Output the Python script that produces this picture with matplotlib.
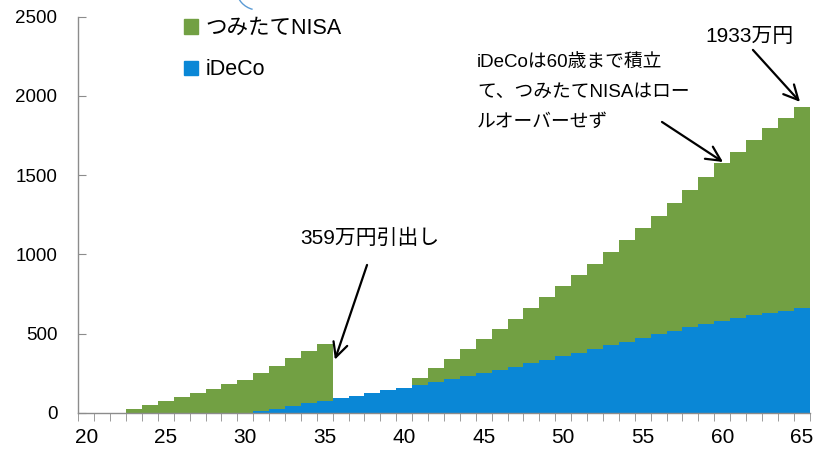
#!/usr/bin/env python3
"""Stacked bar chart of iDeCo and tsumitate NISA balances by age."""

import matplotlib
matplotlib.use("Agg")
import matplotlib.pyplot as plt
from matplotlib.patches import Patch, Arc

plt.rcParams["font.family"] = ["Liberation Sans", "Noto Sans CJK JP"]

# Balance in 万円 at each age
ages = list(range(20, 66))
ideco = [0, 0, 0, 0, 0, 0, 0, 0, 0, 0, 0,
         11, 26, 42, 58, 76, 91, 108, 125, 142, 159,
         177, 195, 213, 231, 250, 270, 290, 311, 333, 356,
         379, 402, 425, 448, 472, 495, 518, 540, 560, 581,
         600, 615, 630, 645, 659]
nisa = [0, 0, 0,
        23, 48, 74, 98, 124, 150, 178, 208, 240, 270, 302, 331, 359,
        0, 0, 0, 0, 0,
        40, 85, 124, 169, 214, 257, 302, 348, 400, 444,
        491, 537, 588, 643, 693, 750, 809, 867, 931, 994,
        1049, 1108, 1167, 1219, 1274]
xticks = [20, 25, 30, 35, 40, 45, 50, 55, 60, 65]

GREEN = "#72A043"
BLUE = "#0A87D6"
GRAY = "#8C8C8C"


def main():
    fig = plt.figure(figsize=(8.14, 4.53), dpi=100)
    ax = fig.add_axes([0.0962, 0.0890, 0.8985, 0.8739])

    ax.bar(ages, ideco, width=1.0, color=BLUE, linewidth=0)
    ax.bar(ages, nisa, width=1.0, bottom=ideco, color=GREEN, linewidth=0)

    ax.set_xlim(19.5, 65.5)
    ax.set_ylim(0, 2500)

    for side in ("top", "right"):
        ax.spines[side].set_visible(False)
    for side in ("left", "bottom"):
        ax.spines[side].set_color(GRAY)
        ax.spines[side].set_linewidth(1.0)

    ax.set_yticks(range(0, 2501, 500))
    ax.tick_params(axis="y", direction="in", length=6, color=GRAY,
                   labelsize=13.5, pad=15)
    ax.set_xticks(xticks)
    ax.set_xticks([a - 0.5 for a in ages] + [65.5], minor=True)
    ax.tick_params(axis="x", which="major", length=0, labelsize=15, pad=11)
    ax.tick_params(axis="x", which="minor", direction="out", length=6,
                   color=GRAY)

    handles = [Patch(color=GREEN, label="つみたてNISA"),
               Patch(color=BLUE, label="iDeCo")]
    fig.legend(handles=handles, loc="upper left",
               bbox_to_anchor=(184 / 814, 1 - 18 / 453), frameon=False,
               fontsize=15.5, handlelength=0.65, handleheight=0.65,
               handletextpad=0.35, labelspacing=0.95, borderpad=0,
               borderaxespad=0)

    arrow = dict(arrowstyle="->", lw=1.6, color="black", mutation_scale=26,
                 shrinkA=0, shrinkB=0)
    ax.annotate("", xy=(35.64, nisa[15] + ideco[15] - 100),
                xytext=(37.66, 933), arrowprops=arrow)
    ax.text(37.85, 1104, f"{nisa[15]}万円引出し", ha="center", va="center",
            fontsize=15)

    ax.annotate("", xy=(60.05, nisa[40] + ideco[40] + 8),
                xytext=(56.21, 1836), arrowprops=arrow)
    ax.text(44.58, 2020, "iDeCoは60歳まで積立\nて、つみたてNISAはロー\nルオーバーせず",
            ha="left", va="center", fontsize=13.5, linespacing=1.98)

    total = nisa[-1] + ideco[-1]
    ax.annotate("", xy=(64.89, total + 30), xytext=(61.93, 2291),
                arrowprops=arrow)
    ax.text(58.92, 2373, f"{total}万円", ha="left", va="center", fontsize=15)

    # stray outline clipped at the top edge
    fig.add_artist(Arc((258 / 814, 1 + 12 / 453), 44 / 814, 44 / 453,
                       theta1=195, theta2=262, color="#5B9BD5", lw=1.0,
                       transform=fig.transFigure))

    fig.savefig("out.png", dpi=100)


if __name__ == "__main__":
    main()
